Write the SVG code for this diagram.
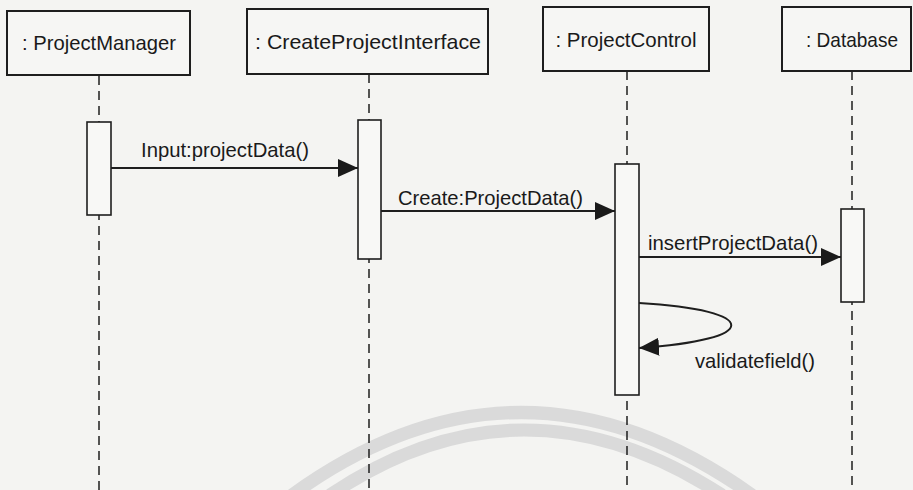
<svg xmlns="http://www.w3.org/2000/svg" width="913" height="490" viewBox="0 0 913 490">
  <style>
    .bg { fill: #f4f4f2; }
    .box { fill: #f6f6f4; stroke: #1e1e1e; stroke-width: 2; }
    .act { fill: #f8f8f6; stroke: #1e1e1e; stroke-width: 1.6; }
    .life { stroke: #1e1e1e; stroke-width: 1.5; stroke-dasharray: 9 6; fill: none; }
    .msg { stroke: #1e1e1e; stroke-width: 2; fill: none; }
    .t { font-family: "Liberation Sans", Arial, sans-serif; font-size: 21px; fill: #1a1a1a; }
    .wm { fill: none; stroke: #dadada; stroke-width: 13; }
  </style>
  <defs>
    <marker id="ah" markerWidth="20" markerHeight="18" refX="20" refY="9" orient="auto" markerUnits="userSpaceOnUse">
      <path d="M0,0 L20,9 L0,18 Z" fill="#1a1a1a"/>
    </marker>
  </defs>
  <rect class="bg" x="0" y="0" width="913" height="490"/>
  <g id="watermark">
    <path class="wm" d="M292,495 Q520,330 752,495"/>
    <path class="wm" d="M330,495 Q522,365 722,495"/>
  </g>
  <g id="lifelines">
    <line class="life" x1="99" y1="76" x2="99" y2="490"/>
    <line class="life" x1="369" y1="74" x2="369" y2="490"/>
    <line class="life" x1="627" y1="71" x2="627" y2="490"/>
    <line class="life" x1="852" y1="71" x2="852" y2="490"/>
  </g>
  <g id="ProjectManager">
    <rect class="box" x="7" y="11" width="183" height="64"/>
    <text class="t" x="99" y="50" text-anchor="middle" textLength="154" lengthAdjust="spacingAndGlyphs">: ProjectManager</text>
    <rect class="act" x="87" y="122" width="24" height="93"/>
  </g>
  <g id="CreateProjectInterface">
    <rect class="box" x="247" y="9" width="241" height="65"/>
    <text class="t" x="368" y="49" text-anchor="middle" textLength="226" lengthAdjust="spacingAndGlyphs">: CreateProjectInterface</text>
    <rect class="act" x="358" y="120" width="23" height="139"/>
  </g>
  <g id="ProjectControl">
    <rect class="box" x="543" y="7" width="166" height="64"/>
    <text class="t" x="626" y="47" text-anchor="middle" textLength="141" lengthAdjust="spacingAndGlyphs">: ProjectControl</text>
    <rect class="act" x="615" y="164" width="24" height="231"/>
  </g>
  <g id="Database">
    <rect class="box" x="782" y="7" width="129" height="64"/>
    <text class="t" x="852" y="47" text-anchor="middle" textLength="92" lengthAdjust="spacingAndGlyphs">: Database</text>
    <rect class="act" x="841" y="209" width="23" height="93"/>
  </g>
  <g id="connectors">
    <line class="msg" x1="111" y1="168" x2="358" y2="168" marker-end="url(#ah)"/>
    <text class="t" x="141" y="157" textLength="168" lengthAdjust="spacingAndGlyphs">Input:projectData()</text>
    <line class="msg" x1="381" y1="211" x2="615" y2="211" marker-end="url(#ah)"/>
    <text class="t" x="398" y="205" textLength="185" lengthAdjust="spacingAndGlyphs">Create:ProjectData()</text>
    <line class="msg" x1="639" y1="257" x2="841" y2="257" marker-end="url(#ah)"/>
    <text class="t" x="648" y="250" textLength="170" lengthAdjust="spacingAndGlyphs">insertProjectData()</text>
    <path class="msg" d="M639,303 C762,310 762,340 639,348" marker-end="url(#ah)"/>
    <text class="t" x="695" y="368" textLength="120" lengthAdjust="spacingAndGlyphs">validatefield()</text>
  </g>
</svg>
